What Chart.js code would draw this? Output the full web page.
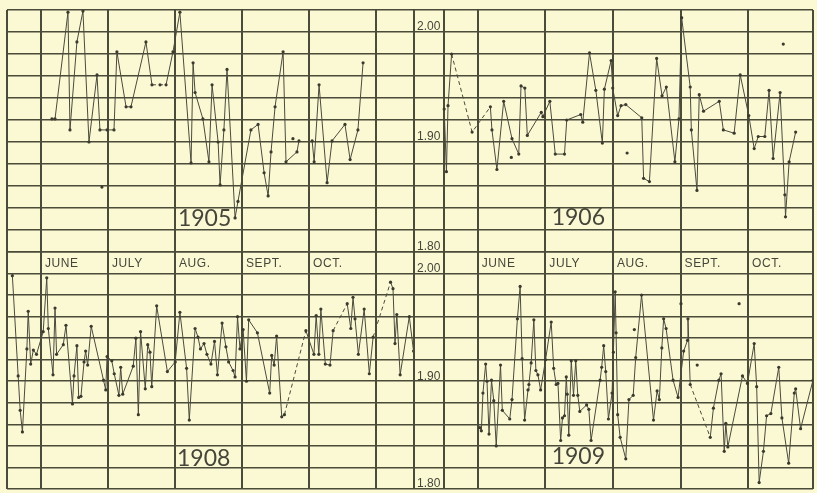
<!DOCTYPE html>
<html>
<head>
<meta charset="utf-8">
<script src="https://cdn.jsdelivr.net/npm/chart.js@4.4.1/dist/chart.umd.min.js"></script>
<style>
  html, body { margin: 0; padding: 0; background: #fbf9d4; }
  #sheet { position: relative; width: 817px; height: 493px; overflow: hidden; }
  #sheet canvas { position: absolute; left: 0; top: 0; }
</style>
</head>
<body>
<div id="sheet">
  <canvas id="c1905" width="817" height="493"></canvas>
  <canvas id="c1906" width="817" height="493"></canvas>
  <canvas id="c1908" width="817" height="493"></canvas>
  <canvas id="c1909" width="817" height="493"></canvas>
</div>
<script>
// x = days from June 1 (30 per month column), y = reading
const MONTHS = ['JUNE', 'JULY', 'AUG.', 'SEPT.', 'OCT.'];
const MONTH_START = [0, 30, 60, 90, 120];
const ROW_LINES = [1.80, 1.82, 1.84, 1.86, 1.88, 1.90, 1.92, 1.94, 1.96, 1.98, 2.00, 2.02];
const Y_LABELS = [2.00, 1.90, 1.80];
const LEFT_COLS = [-15.2, 0, 30, 60, 90, 120, 150, 167];
const RIGHT_COLS = [-28.3, -15, 0, 30, 60, 90, 120, 148.8];

const DAY_1905 = [4.9, 6.3, 12.1, 13.0, 16.1, 18.8, 21.5, 25.1, 26.4, 29.6, 32.7, 34.0, 38.1, 40.3, 47.0, 49.7, 53.3, 56.0, 59.1, 62.2, 67.2, 68.1, 69.0, 72.5, 75.2, 76.6, 79.3, 80.2, 81.9, 83.3, 86.9, 88.2, 94.0, 97.2, 99.9, 101.7, 103.0, 104.8, 108.4, 109.7, 114.6, 115.5, 118.5, 121.4, 122.3, 124.5, 128.1, 130.3, 136.1, 138.4, 141.9, 144.2];
const VAL_1905 = [1.921, 1.921, 2.018, 1.911, 1.991, 2.019, 1.900, 1.961, 1.911, 1.911, 1.911, 1.982, 1.932, 1.932, 1.991, 1.952, 1.952, 1.952, 1.982, 2.018, 1.881, 1.972, 1.945, 1.921, 1.882, 1.952, 1.900, 1.861, 1.911, 1.966, 1.831, 1.846, 1.911, 1.916, 1.872, 1.851, 1.891, 1.932, 1.982, 1.882, 1.891, 1.901, null, 1.901, 1.882, 1.952, 1.863, 1.901, 1.916, 1.884, 1.911, 1.972];
const DASH_1905 = [15, 16];
const STRAY_DAY_1905 = [27.3, 112.8];
const STRAY_VAL_1905 = [1.859, 1.903];

const DAY_1906 = [-14.9, -13.9, -13.2, -11.6, -2.5, 5.6, 6.3, 8.5, 11.5, 15.2, 18.2, 19.2, 20.9, 22.0, 28.2, 28.9, 32.0, 34.4, 38.5, 39.5, 45.7, 46.6, 49.6, 52.4, 55.3, 56.2, 59.2, 59.9, 62.1, 63.6, 65.7, 72.8, 73.6, 76.2, 79.4, 81.8, 83.7, 87.5, 89.3, 90.5, 94.3, 94.8, 97.3, 98.3, 100.2, 107.2, 109.0, 113.8, 116.5, 120.3, 122.7, 124.5, 127.4, 129.3, 131.1, 134.2, 136.3, 136.6, 138.2, 141.1];
const VAL_1906 = [1.930, 1.873, 1.933, 1.980, 1.909, 1.932, 1.911, 1.875, 1.937, 1.903, 1.889, 1.951, 1.949, 1.906, 1.927, 1.923, 1.937, 1.889, 1.889, 1.920, 1.925, 1.918, 1.981, 1.947, 1.899, 1.948, 1.974, 1.949, 1.924, 1.933, 1.934, 1.922, 1.867, 1.864, 1.976, 1.942, 1.950, 1.882, 1.921, 2.013, 1.950, 1.911, 1.856, 1.943, 1.928, 1.937, 1.911, 1.908, 1.961, 1.924, 1.894, 1.905, 1.905, 1.947, 1.885, 1.945, 1.852, 1.832, 1.882, 1.909];
const DASH_1906 = [3, 4];
const STRAY_DAY_1906 = [135.6, 66.3, 14.9];
const STRAY_VAL_1906 = [1.989, 1.890, 1.886];

const DAY_1908 = [-12.8, -10.2, -9.3, -8.3, -6.3, -5.7, -4.6, -3.4, -2.0, 1.0,
  2.6, 3.3, 5.4, 6.3, 7.0, 10.0, 11.2, 14.1, 14.8, 16.1,
  16.9, 17.9, 19.3, 20.0, 20.9, 22.5, 28.0, 29.0, 29.6, 31.7,
  32.8, 34.9, 35.7, 36.6, 41.3, 42.5, 43.6, 44.6, 46.7, 47.8,
  48.8, 49.6, 51.8, 56.6, 60.1, 62.2, 65.2, 66.4, 69.0, 70.3,
  71.4, 73.0, 74.3, 76.1, 77.7, 79.0, 81.1, 82.8, 84.0, 86.0,
  86.9, 88.0, 89.1, 90.5, 92.0, 93.0, 96.9, 102.4, 103.3, 104.4,
  105.5, 107.8, 109.0, 118.6, 122.2, 123.2, 124.4, 125.3, 127.3, 129.4,
  130.8, 137.1, 138.7, 139.7, 140.6, 142.1, 144.7, 147.0, 148.7, 156.5,
  157.6, 158.5, 159.3, 160.8, 164.9, 166.8];
const VAL_1908 = [1.998, 1.905, 1.873, 1.853, 1.930, 1.965, 1.916, 1.929, 1.925, 1.946,
  1.996, 1.949, 1.906, 1.968, 1.925, 1.934, 1.952, 1.879, 1.905, 1.933,
  1.885, 1.886, 1.918, 1.928, 1.915, 1.951, 1.901, 1.892, 1.923, 1.919,
  1.907, 1.887, 1.913, 1.888, 1.914, 1.940, 1.869, 1.946, 1.893, 1.934,
  1.927, 1.895, 1.970, 1.909, 1.918, 1.964, 1.912, 1.864, 1.949, 1.941,
  1.930, 1.935, 1.925, 1.916, 1.937, 1.906, 1.954, 1.932, 1.918, 1.910,
  1.904, 1.960, 1.930, 1.948, 1.900, 1.957, 1.945, 1.889, 1.924, 1.915,
  1.942, 1.867, 1.869, 1.947, 1.925, 1.961, 1.925, 1.967, 1.916, 1.915,
  1.947, 1.972, 1.949, 1.978, 1.958, 1.925, 1.967, 1.907, 1.941, 1.992,
  1.986, 1.935, 1.962, 1.906, 1.960, 1.928];
const DASH_1908 = [72, 80, 88];
const STRAY_DAY_1908 = [];
const STRAY_VAL_1908 = [];

const DAY_1909 = [0.9, 1.6, 2.3, 3.5, 4.1, 5.0, 6.1, 7.1, 8.2, 10.1,
  10.9, 14.2, 15.2, 17.6, 18.8, 19.7, 20.8, 22.3, 22.7, 23.7,
  24.9, 25.8, 26.7, 27.9, 30.1, 32.6, 33.7, 34.8, 35.6, 36.8,
  37.6, 38.5, 39.3, 39.7, 40.4, 41.5, 42.5, 43.5, 44.4, 45.3,
  48.3, 49.3, 50.3, 54.3, 55.0, 55.9, 56.8, 58.0, 59.6, 60.2,
  61.0, 61.4, 62.1, 63.2, 65.7, 67.1, 69.0, 70.1, 72.7, 78.0,
  79.6, 80.6, 81.7, 82.5, 83.6, 86.7, 88.9, 91.4, 93.1, 93.3,
  94.3, 103.2, 104.6, 107.0, 108.0, 109.4, 110.1, 111.0, 117.5, 119.7,
  122.7, 123.8, 124.9, 126.8, 128.2, 130.1, 133.6, 135.0, 138.0, 140.5,
  141.1, 143.3, 148.8];
const VAL_1909 = [1.857, 1.854, 1.889, 1.916, 1.900, 1.851, 1.901, 1.882, 1.840, 1.915,
  1.873, 1.865, 1.883, 1.958, 1.988, 1.921, 1.864, 1.892, 1.897, 1.917,
  1.957, 1.910, 1.906, 1.892, 1.920, 1.955, 1.912, 1.897, 1.898, 1.845,
  1.866, 1.868, 1.904, 1.888, 1.850, 1.919, 1.887, 1.919, 1.887, 1.872,
  1.878, 1.874, 1.845, 1.901, 1.913, 1.933, 1.909, 1.865, 1.889, 1.927,
  1.983, 1.945, 1.869, 1.848, 1.828, 1.883, 1.887, 1.922, 1.980, 1.864,
  1.891, 1.883, 1.931, 1.958, 1.949, 1.901, 1.885, 1.928, 1.938, 1.958,
  1.897, 1.848, 1.875, 1.901, 1.907, 1.835, 1.861, 1.839, 1.905, 1.898,
  1.935, 1.895, 1.806, 1.835, 1.868, 1.870, 1.913, 1.866, 1.824, 1.889,
  1.893, 1.856, 1.901];
const DASH_1909 = [70];
const STRAY_DAY_1909 = [69.5, 90.2, 116.0, 97.4];
const STRAY_VAL_1909 = [1.948, 1.972, 1.972, 1.915];

const GRID_COLOR = '#4b4b39';
const LINE_COLOR = '#4a4a3c';
const TEXT_COLOR = '#45453a';

function toPoints(days, vals) {
    return days.map((d, i) => ({ x: d, y: vals[i] }));
}

// month names, scale numbers and year written onto each panel
const panelText = {
    id: 'panelText',
    afterDatasetsDraw(chart, args, opts) {
        const { ctx, scales: { x, y } } = chart;
        ctx.save();
        ctx.fillStyle = TEXT_COLOR;
        ctx.textBaseline = 'middle';
        ctx.textAlign = 'left';

        ctx.font = '23px Lato, "Liberation Sans", sans-serif';
        ctx.fillText(opts.year, x.getPixelForValue(opts.yearDay), y.getPixelForValue(opts.yearVal));

        if (opts.months) {
            ctx.font = '12px "Liberation Sans", sans-serif';
            ctx.letterSpacing = '0.6px';
            MONTHS.forEach((m, i) => {
                ctx.fillText(m, x.getPixelForValue(MONTH_START[i]) + 4, y.getPixelForValue(2.01) + 1);
            });
            ctx.letterSpacing = '0px';
        }
        if (opts.yLabels) {
            ctx.font = '12px "Liberation Sans", sans-serif';
            Y_LABELS.forEach(v => {
                ctx.fillText(v.toFixed(2), chart.chartArea.left + 3, y.getPixelForValue(v) - 5);
            });
        }
        ctx.restore();
    }
};

function makePanel(id, cfg) {
    const ctx = document.getElementById(id).getContext('2d');
    return new Chart(ctx, {
        type: 'line',
        data: {
            datasets: [{
                data: toPoints(cfg.days, cfg.vals),
                borderColor: LINE_COLOR,
                borderWidth: 1,
                tension: 0,
                spanGaps: false,
                pointRadius: 1.6,
                pointBorderWidth: 0,
                pointBackgroundColor: '#3a3a2e',
                segment: {
                    borderDash: c => cfg.dash.includes(c.p0DataIndex) ? [4, 3] : undefined
                }
            }, {
                data: toPoints(cfg.strayDays, cfg.strayVals),
                showLine: false,
                pointRadius: 1.6,
                pointBorderWidth: 0,
                pointBackgroundColor: '#3a3a2e'
            }]
        },
        options: {
            responsive: false,
            animation: false,
            layout: { padding: cfg.box },
            plugins: {
                legend: { display: false },
                tooltip: { enabled: false },
                panelText: cfg.text
            },
            scales: {
                x: {
                    type: 'linear',
                    min: cfg.cols[0],
                    max: cfg.cols[cfg.cols.length - 1],
                    afterBuildTicks: s => { s.ticks = cfg.cols.map(v => ({ value: v })); },
                    ticks: { display: false },
                    border: { display: false },
                    grid: { color: GRID_COLOR, lineWidth: 2, drawTicks: false }
                },
                y: {
                    min: 1.80,
                    max: 2.02,
                    afterBuildTicks: s => { s.ticks = ROW_LINES.map(v => ({ value: v })); },
                    ticks: { display: false },
                    border: { display: false },
                    grid: { color: GRID_COLOR, lineWidth: 1.6, drawTicks: false }
                }
            }
        },
        plugins: [panelText]
    });
}

makePanel('c1905', {
    days: DAY_1905, vals: VAL_1905, dash: DASH_1905,
    strayDays: STRAY_DAY_1905, strayVals: STRAY_VAL_1905,
    cols: LEFT_COLS,
    box: { left: 7, top: 10, right: 403, bottom: 241 },
    text: { year: '1905', yearDay: 61.3, yearVal: 1.830, months: false, yLabels: false }
});
makePanel('c1906', {
    days: DAY_1906, vals: VAL_1906, dash: DASH_1906,
    strayDays: STRAY_DAY_1906, strayVals: STRAY_VAL_1906,
    cols: RIGHT_COLS,
    box: { left: 414, top: 10, right: 3, bottom: 241 },
    text: { year: '1906', yearDay: 32.8, yearVal: 1.831, months: false, yLabels: true }
});
makePanel('c1908', {
    days: DAY_1908, vals: VAL_1908, dash: DASH_1908,
    strayDays: STRAY_DAY_1908, strayVals: STRAY_VAL_1908,
    cols: LEFT_COLS,
    box: { left: 7, top: 252, right: 403, bottom: 0 },
    text: { year: '1908', yearDay: 60.9, yearVal: 1.828, months: true, yLabels: false }
});
makePanel('c1909', {
    days: DAY_1909, vals: VAL_1909, dash: DASH_1909,
    strayDays: STRAY_DAY_1909, strayVals: STRAY_VAL_1909,
    cols: RIGHT_COLS,
    box: { left: 414, top: 252, right: 3, bottom: 0 },
    text: { year: '1909', yearDay: 32.8, yearVal: 1.830, months: true, yLabels: true }
});
</script>
</body>
</html>
